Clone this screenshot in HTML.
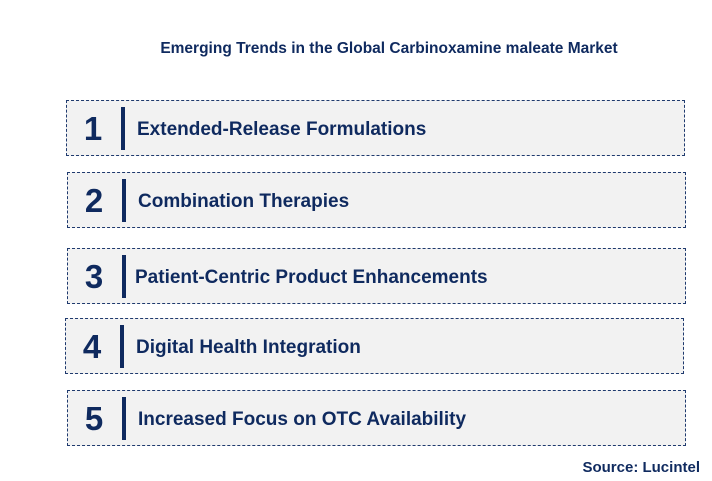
<!DOCTYPE html>
<html><head><meta charset="utf-8"><style>
body{margin:0;width:712px;height:481px;background:#fff;font-family:"Liberation Sans",sans-serif;position:relative;overflow:hidden}
.t{position:absolute;left:0;width:712px;top:40px;text-align:center;font-weight:bold;font-size:15.5px;color:#0f2a5f;padding-left:66px;box-sizing:border-box}
.box{position:absolute;width:619px;height:56px;background:#f2f2f2;border:1px dashed #1f3a6e;box-sizing:border-box}
.num{position:absolute;left:11px;width:30px;top:9px;text-align:center;font-size:33px;font-weight:bold;color:#0f2a5f}
.bar{position:absolute;left:54px;top:6px;width:4px;height:43px;background:#0f2a5f}
.lbl{position:absolute;left:70px;top:18px;font-size:19px;font-weight:bold;color:#0f2a5f;white-space:nowrap}
.src{position:absolute;right:12px;top:459px;font-size:15px;font-weight:bold;color:#0f2a5f}
</style></head><body>
<div class="t">Emerging Trends in the Global Carbinoxamine maleate Market</div>
<div class="box" style="left:66px;top:100px"><div class="num">1</div><div class="bar"></div><div class="lbl">Extended-Release Formulations</div></div>
<div class="box" style="left:67px;top:172px"><div class="num">2</div><div class="bar"></div><div class="lbl">Combination Therapies</div></div>
<div class="box" style="left:67px;top:248px"><div class="num">3</div><div class="bar"></div><div class="lbl" style="left:67px">Patient-Centric Product Enhancements</div></div>
<div class="box" style="left:65px;top:318px"><div class="num">4</div><div class="bar"></div><div class="lbl">Digital Health Integration</div></div>
<div class="box" style="left:67px;top:390px"><div class="num">5</div><div class="bar"></div><div class="lbl">Increased Focus on OTC Availability</div></div>
<div class="src">Source: Lucintel</div>
</body></html>
